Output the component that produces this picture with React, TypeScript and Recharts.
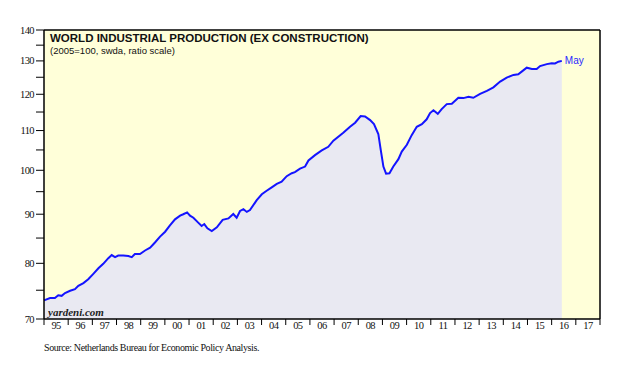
import { Area, CartesianGrid, ComposedChart, ReferenceDot, ReferenceLine, XAxis, YAxis } from 'recharts';

// decimal year of each reading (monthly-ish samples)
const dates = [
  1995.0, 1995.25, 1995.45, 1995.59, 1995.73, 1995.87, 1996.08, 1996.28, 1996.42, 1996.63, 1996.83,
  1997.04, 1997.25, 1997.45, 1997.66, 1997.8, 1997.94, 1998.07, 1998.28, 1998.49, 1998.63, 1998.76,
  1998.97, 1999.18, 1999.39, 1999.59, 1999.8, 2000.01, 2000.21, 2000.42, 2000.63, 2000.76, 2000.92,
  2001.04, 2001.18, 2001.38, 2001.52, 2001.63, 2001.76, 2001.94, 2002.15, 2002.39, 2002.63, 2002.83,
  2002.97, 2003.11, 2003.25, 2003.39, 2003.52, 2003.8, 2004.01, 2004.21, 2004.42, 2004.63, 2004.83,
  2005.04, 2005.25, 2005.38, 2005.59, 2005.8, 2005.94, 2006.21, 2006.49, 2006.76, 2006.97, 2007.38,
  2007.66, 2007.87, 2008.1, 2008.28, 2008.49, 2008.65, 2008.83, 2008.93, 2009.04, 2009.15, 2009.29,
  2009.45, 2009.66, 2009.8, 2010.01, 2010.21, 2010.42, 2010.63, 2010.83, 2010.97, 2011.11, 2011.29,
  2011.45, 2011.66, 2011.87, 2012.14, 2012.35, 2012.56, 2012.76, 2013.04, 2013.32, 2013.59, 2013.87,
  2014.14, 2014.42, 2014.62, 2014.76, 2014.97, 2015.18, 2015.38, 2015.52, 2015.8, 2016.0, 2016.14,
  2016.28, 2016.42
];

// world industrial production ex construction, 2005=100
const production = [
  73.2, 73.6, 73.6, 74.1, 74.0, 74.5, 74.9, 75.2, 75.8, 76.3, 77.0,
  78.0, 79.05, 79.9, 81.0, 81.6, 81.2, 81.5, 81.5, 81.4, 81.2, 81.8,
  81.8, 82.5, 83.05, 84.1, 85.3, 86.3, 87.6, 88.9, 89.7, 90.0, 90.4,
  89.7, 89.25, 88.2, 87.5, 87.9, 87.0, 86.45, 87.2, 88.8, 89.1, 90.05,
  89.25, 90.7, 91.1, 90.5, 90.9, 93.1, 94.4, 95.2, 96.0, 96.8, 97.3,
  98.6, 99.3, 99.55, 100.4, 100.9, 102.4, 103.7, 104.9, 105.8, 107.35, 109.4,
  111.0, 112.1, 113.9, 113.8, 112.8, 111.7, 109.1, 105.0, 100.9, 99.2, 99.3,
  100.9, 102.7, 104.6, 106.3, 108.8, 111.0, 111.7, 113.0, 114.7, 115.5, 114.5,
  115.8, 117.2, 117.3, 119.0, 118.9, 119.3, 119.0, 120.1, 121.0, 122.0, 123.7,
  124.9, 125.7, 125.9, 126.7, 127.9, 127.5, 127.5, 128.4, 129.0, 129.3, 129.2,
  129.75, 130.0
];

const yearLabels = ['95', '96', '97', '98', '99', '00', '01', '02', '03', '04', '05', '06',
  '07', '08', '09', '10', '11', '12', '13', '14', '15', '16', '17'];
const firstYear = 1995;

const yTicks = [70, 75, 80, 85, 90, 95, 100, 105, 110, 115, 120, 125, 130, 135, 140];
const lastLabel = 'May';

const chartData = dates.map((t, i) => ({ t, value: production[i] }));
const yearEdges = yearLabels.map((_, i) => firstYear + i).concat(firstYear + yearLabels.length);
const xTicks = yearEdges.concat(yearLabels.map((_, i) => firstYear + i + 0.5)).sort((a, b) => a - b);

const serif = '"Liberation Serif", "Times New Roman", serif';
const sans = '"Liberation Sans", Arial, sans-serif';

function LeftTick({ x, y, payload }: any) {
  const v = payload.value;
  return (
    <g>
      <line x1={x - 8} x2={x} y1={y} y2={y} stroke="#000" />
      {v % 10 === 0 && (
        <text x={x - 10} y={y} dy={3.5} textAnchor="end" fontFamily={serif} fontSize={10.5} letterSpacing={-0.6} fill="#111">
          {v}
        </text>
      )}
    </g>
  );
}

function RightTick({ x, y, payload }: any) {
  const v = payload.value;
  return (
    <g>
      <line x1={x} x2={x + 6} y1={y} y2={y} stroke="#000" />
      {v % 10 === 0 && (
        <text x={x + 9} y={y} dy={3.5} textAnchor="start" fontFamily={serif} fontSize={10.5} letterSpacing={-0.6} fill="#111">
          {v}
        </text>
      )}
    </g>
  );
}

function YearTick({ x, y, payload }: any) {
  const v = payload.value;
  if (Number.isInteger(v)) {
    return <line x1={x} x2={x} y1={y} y2={y + 6} stroke="#000" />;
  }
  const label = yearLabels[Math.floor(v) - firstYear];
  return (
    <text x={x} y={y + 10} textAnchor="middle" fontFamily={serif} fontSize={10.5} letterSpacing={-0.6} fill="#111">
      {label}
    </text>
  );
}

export default function App() {
  const last = chartData[chartData.length - 1];
  return (
    <div style={{ position: 'relative', width: 638, height: 372, background: '#fff' }}>
      <style>{'body{margin:0}'}</style>
      <ComposedChart width={638} height={372} data={chartData} margin={{ top: 30, right: 0, bottom: 0, left: 0 }}>
        <CartesianGrid horizontal={false} vertical={false} fill="#ffffd9" />
        <XAxis
          dataKey="t"
          type="number"
          domain={[firstYear, firstYear + yearLabels.length]}
          ticks={xTicks}
          interval={0}
          height={53}
          tickSize={0}
          tickMargin={0}
          tickLine={false}
          axisLine={{ stroke: '#000', strokeWidth: 1.5 }}
          tick={<YearTick />}
        />
        <YAxis
          yAxisId="left"
          scale="log"
          domain={[70, 140]}
          ticks={yTicks}
          interval={0}
          width={44}
          tickSize={0}
          tickMargin={0}
          tickLine={false}
          axisLine={{ stroke: '#000', strokeWidth: 1.5 }}
          tick={<LeftTick />}
        />
        <YAxis
          yAxisId="right"
          orientation="right"
          scale="log"
          domain={[70, 140]}
          ticks={yTicks}
          interval={0}
          width={38}
          tickSize={0}
          tickMargin={0}
          tickLine={false}
          axisLine={{ stroke: '#000', strokeWidth: 1.5 }}
          tick={<RightTick />}
        />
        <Area
          yAxisId="left"
          dataKey="value"
          type="linear"
          baseValue="dataMin"
          stroke="#1414ff"
          strokeWidth={2}
          fill="#e9e9f2"
          fillOpacity={1}
          isAnimationActive={false}
          dot={false}
          activeDot={false}
        />
        <ReferenceLine yAxisId="left" y={140} stroke="#000" strokeWidth={1.5} />
        <ReferenceDot
          yAxisId="left"
          x={last.t}
          y={last.value}
          r={0}
          stroke="none"
          label={{ value: lastLabel, position: 'right', offset: 3, fill: '#2a2aff', fontSize: 10, fontFamily: sans }}
        />
      </ComposedChart>
      <div style={{ position: 'absolute', left: 50, top: 32, fontFamily: sans, fontWeight: 'bold', fontSize: 11.5, lineHeight: '12px', color: '#111' }}>
        WORLD INDUSTRIAL PRODUCTION (EX CONSTRUCTION)
      </div>
      <div style={{ position: 'absolute', left: 50, top: 44.5, fontFamily: sans, fontSize: 9.5, lineHeight: '11px', color: '#111' }}>
        (2005=100, swda, ratio scale)
      </div>
      <div style={{ position: 'absolute', left: 48, top: 305.5, fontFamily: serif, fontWeight: 'bold', fontStyle: 'italic', fontSize: 11, lineHeight: '12px', color: '#222' }}>
        yardeni.com
      </div>
      <div style={{ position: 'absolute', left: 44, top: 341.5, fontFamily: serif, fontSize: 10, lineHeight: '11px', letterSpacing: -0.4, color: '#111' }}>
        Source: Netherlands Bureau for Economic Policy Analysis.
      </div>
    </div>
  );
}
